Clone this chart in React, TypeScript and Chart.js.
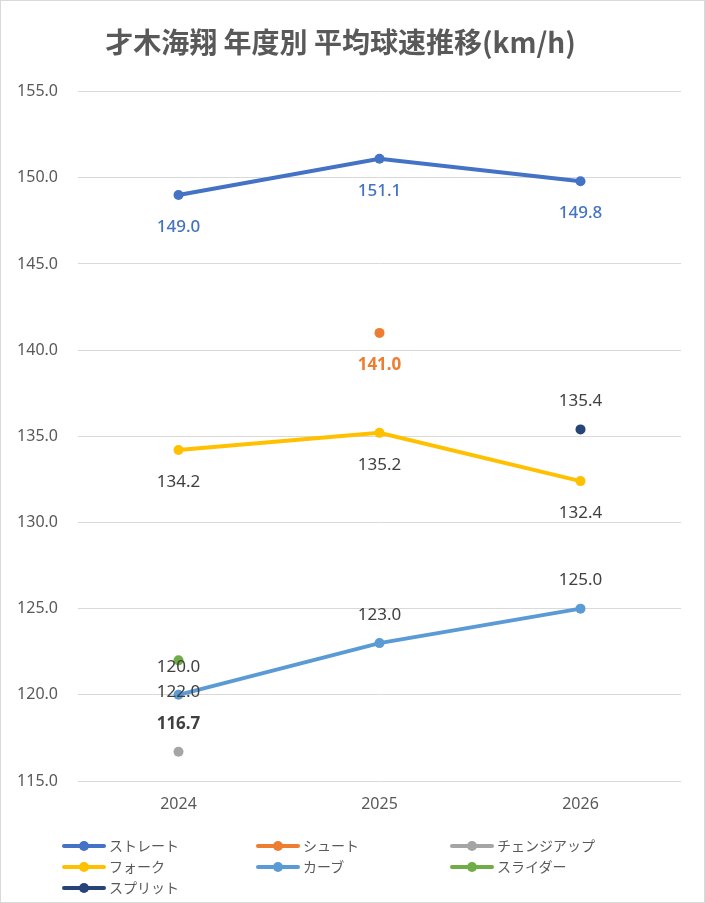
import React, { useEffect, useRef } from "react";
import { Chart, registerables } from "chart.js";

Chart.register(...registerables);

const TITLE = "才木海翔 年度別 平均球速推移(km/h)";
const YEARS = ["2024", "2025", "2026"];
const SERIES_NAMES = ["ストレート", "シュート", "チェンジアップ", "フォーク", "カーブ", "スライダー", "スプリット"];
const STRAIGHT = [149.0, 151.1, 149.8];
const SHOOT = [null, 141.0, null];
const CHANGEUP = [116.7, null, null];
const FORK = [134.2, 135.2, 132.4];
const CURVE = [120.0, 123.0, 125.0];
const SLIDER = [122.0, null, null];
const SPLIT = [null, null, 135.4];
const SERIES_VALUES = [STRAIGHT, SHOOT, CHANGEUP, FORK, CURVE, SLIDER, SPLIT];
const SERIES_COLORS = ["#4472C4", "#ED7D31", "#A5A5A5", "#FFC000", "#5B9BD5", "#70AD47", "#264478"];
const LABEL_POS = ["below", "below", "above", "below", "above", "below", "above"];
const LABEL_COLORS = ["#4472C4", "#ED7D31", "#404040", "#404040", "#404040", "#404040", "#404040"];
const LABEL_WEIGHT = ["500", "bold", "bold", "normal", "normal", "normal", "normal"];
const Y_MIN = 115;
const Y_MAX = 155;
const Y_STEP = 5;

const FONT = "'Noto Sans CJK JP', 'Noto Sans', sans-serif";
const NUM_FONT = "'Noto Sans', 'Noto Sans CJK JP', sans-serif";

const labelPlugin = {
  id: "valueLabels",
  afterDatasetsDraw(chart: any) {
    const ctx = chart.ctx;
    ctx.save();
    chart.data.datasets.forEach((ds: any, i: number) => {
      const meta = chart.getDatasetMeta(i);
      meta.data.forEach((pt: any, j: number) => {
        const v = ds.data[j];
        if (v === null || v === undefined) return;
        const y = LABEL_POS[i] === "below" ? pt.y + 32 : pt.y - 28;
        ctx.font = `${LABEL_WEIGHT[i]} 17px ${NUM_FONT}`;
        ctx.fillStyle = LABEL_COLORS[i];
        ctx.textAlign = "center";
        ctx.textBaseline = "middle";
        ctx.fillText(v.toFixed(1), pt.x, y);
      });
    });
    ctx.restore();
  },
};

function LegendMarker({ color }: { color: string }) {
  return (
    <div style={{ position: "relative", width: 44, height: 12, flex: "none" }}>
      <div style={{ position: "absolute", left: 0, right: 0, top: 4, height: 4, background: color, borderRadius: 2 }} />
      <div style={{ position: "absolute", left: 17, top: 1, width: 10, height: 10, borderRadius: 5, background: color }} />
    </div>
  );
}

export default function App() {
  const ref = useRef<HTMLCanvasElement>(null);

  useEffect(() => {
    document.body.style.margin = "0";
    const canvas = ref.current;
    if (!canvas) return;
    const chart = new Chart(canvas, {
      type: "line",
      data: {
        labels: YEARS,
        datasets: SERIES_NAMES.map((name, i) => ({
          label: name,
          data: SERIES_VALUES[i] as any,
          borderColor: SERIES_COLORS[i],
          backgroundColor: SERIES_COLORS[i],
          borderWidth: 4,
          pointRadius: 5,
          pointHoverRadius: 5,
          pointBorderWidth: 0,
          tension: 0,
          spanGaps: false,
        })),
      },
      options: {
        responsive: false,
        animation: false,
        layout: { padding: { top: 0, left: 0, right: 24, bottom: 82 } },
        plugins: {
          legend: { display: false },
          tooltip: { enabled: false },
          title: {
            display: true,
            text: TITLE,
            color: "#595959",
            font: { family: FONT, size: 28, weight: "bold" },
            padding: { top: 26, bottom: 32 },
          },
        },
        scales: {
          x: {
            offset: true,
            grid: { display: false, drawTicks: false },
            border: { display: false },
            ticks: { color: "#595959", font: { family: NUM_FONT, size: 16 }, padding: 14 },
            afterFit: (s: any) => { s.height = 40; },
          },
          y: {
            min: Y_MIN,
            max: Y_MAX,
            grid: { color: "#D9D9D9", lineWidth: 1, drawTicks: false },
            border: { display: false },
            ticks: {
              stepSize: Y_STEP,
              color: "#595959",
              font: { family: NUM_FONT, size: 16 },
              padding: 20,
              callback: (v: any) => Number(v).toFixed(1),
            },
            afterFit: (s: any) => { s.width = 78; },
          },
        },
      },
      plugins: [labelPlugin],
    });
    return () => chart.destroy();
  }, []);

  return (
    <div style={{ position: "relative", width: 705, height: 903, background: "#fff", overflow: "hidden" }}>
      <canvas ref={ref} width={705} height={903} style={{ position: "absolute", left: 0, top: 0, width: 705, height: 903 }} />
      <div
        style={{
          position: "absolute",
          left: 62,
          top: 835,
          display: "grid",
          gridTemplateColumns: "194px 194px 194px",
          gridAutoRows: "21px",
          fontFamily: FONT,
          fontSize: 14,
          color: "#595959",
        }}
      >
        {SERIES_NAMES.map((name, i) => (
          <div key={name} style={{ display: "flex", alignItems: "center", height: 21 }}>
            <LegendMarker color={SERIES_COLORS[i]} />
            <span style={{ marginLeft: 3, lineHeight: "21px" }}>{name}</span>
          </div>
        ))}
      </div>
      <div style={{ position: "absolute", inset: 0, border: "1px solid #D9D9D9", pointerEvents: "none" }} />
    </div>
  );
}
